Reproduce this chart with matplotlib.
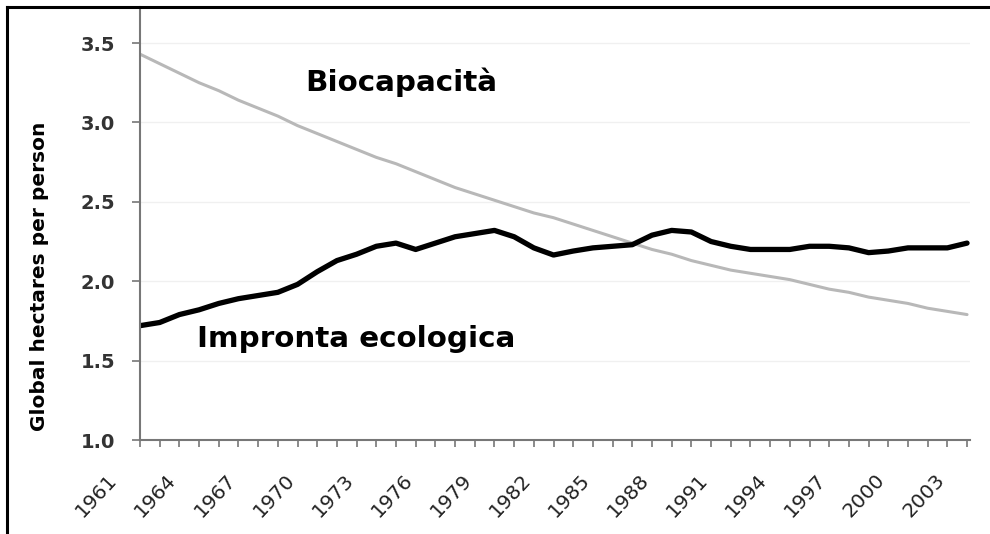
import matplotlib.pyplot as plt
from matplotlib.lines import Line2D
from matplotlib.transforms import ScaledTranslation
import numpy as np

years = np.arange(1961, 2004)

# Biocapacità (global hectares per person)
biocapacity = [3.43, 3.37, 3.31, 3.25, 3.20, 3.14, 3.09, 3.04, 2.98, 2.93,
               2.88, 2.83, 2.78, 2.74, 2.69, 2.64, 2.59, 2.55, 2.51, 2.47,
               2.43, 2.40, 2.36, 2.32, 2.28, 2.24, 2.20, 2.17, 2.13, 2.10,
               2.07, 2.05, 2.03, 2.01, 1.98, 1.95, 1.93, 1.90, 1.88, 1.86,
               1.83, 1.81, 1.79]

# Impronta ecologica
footprint = [1.72, 1.74, 1.79, 1.82, 1.86, 1.89, 1.91, 1.93, 1.98, 2.06,
             2.13, 2.17, 2.22, 2.24, 2.20, 2.24, 2.28, 2.30, 2.32, 2.28,
             2.21, 2.165, 2.19, 2.21, 2.22, 2.23, 2.29, 2.32, 2.31, 2.25,
             2.22, 2.20, 2.20, 2.20, 2.22, 2.22, 2.21, 2.18, 2.19, 2.21,
             2.21, 2.21, 2.24]

label_years = years[::3]

fig = plt.figure(figsize=(9.9, 5.34), dpi=100)
ax = fig.add_axes([140 / 990, 1 - 440 / 534, 830 / 990, 433 / 534])

ax.plot(years, biocapacity, color='#b8b8b8', lw=2.2, solid_capstyle='round')
ax.plot(years, footprint, color='black', lw=3.8, solid_capstyle='round')

ax.set_xlim(1961, 2003.15)
ax.set_ylim(1.0, 3.727)
ax.set_yticks([1.0, 1.5, 2.0, 2.5, 3.0, 3.5])
ax.set_yticklabels(['1.0', '1.5', '2.0', '2.5', '3.0', '3.5'])
ax.set_xticks(years, minor=True)
ax.set_xticks(label_years)
ax.set_xticklabels([str(y) for y in label_years], rotation=47, ha='right')

ax.grid(axis='y', color='#f0f0f0', lw=1)
ax.set_axisbelow(True)
for s in ['top', 'right']:
    ax.spines[s].set_visible(False)
for s in ['left', 'bottom']:
    ax.spines[s].set_color('#777777')
    ax.spines[s].set_linewidth(1.5)

ax.tick_params(axis='y', length=6, width=1.2, color='#777777', pad=12,
               labelsize=14, labelcolor='#333333')
ax.tick_params(axis='x', which='both', length=5, width=1.2, color='#777777',
               pad=17, labelsize=14.5, labelcolor='#222222')
for lab in ax.get_yticklabels():
    lab.set_fontweight('bold')
offset = ScaledTranslation(-0.19, 0, fig.dpi_scale_trans)
for lab in ax.get_xticklabels():
    lab.set_transform(lab.get_transform() + offset)

ax.text(1969.4, 3.198, 'Biocapacità', fontsize=21.2, fontweight='bold',
        ha='left', va='baseline')
ax.text(1963.9, 1.586, 'Impronta ecologica', fontsize=21.2, fontweight='bold',
        ha='left', va='baseline')

fig.text(40 / 990, 1 - 276 / 534, 'Global hectares per person', rotation=90,
         fontsize=14.5, fontweight='bold', ha='center', va='center')

# frame of the cropped screenshot (top and left edges)
fig.add_artist(Line2D([7 / 990, 1], [1 - 7 / 534, 1 - 7 / 534], color='black',
                      lw=2.2, transform=fig.transFigure))
fig.add_artist(Line2D([7 / 990, 7 / 990], [0, 1 - 7 / 534], color='black',
                      lw=2.2, transform=fig.transFigure))

fig.savefig('out.png', dpi=100)
